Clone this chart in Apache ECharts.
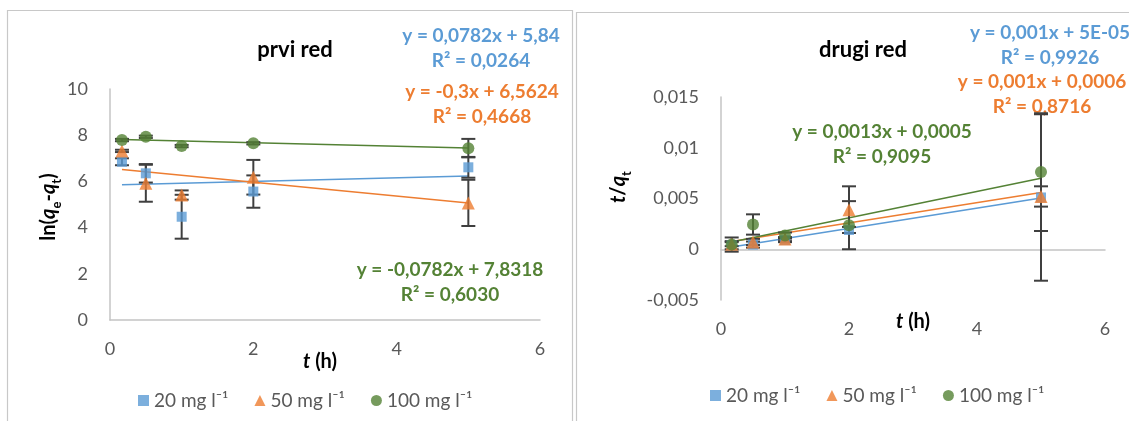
<!DOCTYPE html>
<html>
<head>
<meta charset="utf-8">
<script src="https://cdn.jsdelivr.net/npm/echarts@6/dist/echarts.min.js"></script>
<style>
  html, body { margin: 0; padding: 0; background: #fff; }
  #chart { width: 1129px; height: 421px; }
</style>
</head>
<body>
<div id="chart"></div>
<script>
// Sampling times (h)
const times = [0.167, 0.5, 1, 2, 5];
const seriesNames = ['20 mg l\u207B\u00B9', '50 mg l\u207B\u00B9', '100 mg l\u207B\u00B9'];

// First-order kinetics: ln(qe - qt)
const first20 = [6.85, 6.35, 4.47, 5.56, 6.61];
const first50 = [7.32, 5.92, 5.41, 6.18, 5.07];
const first100 = [7.79, 7.93, 7.53, 7.65, 7.44];
const firstErr20 = [0.15, 0.4, 0.95, 0.7, 0.45];
const firstErr50 = [0.05, 0.8, 0.2, 0.75, 1.0];
const firstErr100 = [0.05, 0.05, 0.05, 0.05, 0.4];
const firstSlope = [0.0782, -0.3, -0.0782];
const firstIntercept = [5.84, 6.5624, 7.8318];
const firstR2 = [0.0264, 0.4668, 0.6030];

// Second-order kinetics: t / qt
const second20 = [0.0004, 0.00046, 0.0009, 0.0019, 0.0051];
const second50 = [0.0005, 0.00072, 0.001, 0.0039, 0.0052];
const second100 = [0.00046, 0.00244, 0.00135, 0.00237, 0.0076];
const secondErr20 = [0.0004, 0.0003, 0.0002, 0.0003, 0.0082];
const secondErr50 = [0.0002, 0.0003, 0.0002, 0.0023, 0.001];
const secondErr100 = [0.0007, 0.001, 0.0003, 0.00237, 0.0058];
const secondSlope = [0.001, 0.001, 0.0013];
const secondIntercept = [0.00005, 0.0006, 0.0005];
const secondR2 = [0.9926, 0.8716, 0.9095];

// Axis ticks
const firstYTicks = { min: 0, max: 10, interval: 2 };
const secondYTicks = { min: -0.005, max: 0.015, interval: 0.005 };
const xTicks = { min: 0, max: 6, interval: 2 };

const colors = ['#5B9BD5', '#ED7D31', '#548235'];
const symbols = ['rect', 'triangle', 'circle'];
const symbolSizes = [10, 13, 12];
const FONT = 'Lato, "DejaVu Sans", sans-serif';

function dec(v) {
  if (v !== 0 && Math.abs(v) < 0.0001) {
    const [m, e] = v.toExponential(0).split('e');
    const ex = parseInt(e, 10);
    return m + 'E' + (ex < 0 ? '-' : '+') + String(Math.abs(ex)).padStart(2, '0');
  }
  return String(v).replace('.', ',');
}
function equation(a, b) {
  return 'y = ' + dec(a) + 'x ' + (b < 0 ? '- ' + dec(-b) : '+ ' + dec(b));
}
function r2Text(r) {
  return 'R\u00B2 = ' + r.toFixed(4).replace('.', ',');
}
function tickFmt(v) {
  return String(Number(v.toFixed(6))).replace('.', ',');
}

function pts(ys) { return times.map((x, i) => [x, ys[i]]); }
function errPts(ys, es) { return times.map((x, i) => [x, ys[i], es[i]]); }
function trend(a, b) {
  const x0 = times[0], x1 = times[times.length - 1];
  return [[x0, a * x0 + b], [x1, a * x1 + b]];
}

function errorBars(params, api) {
  const x = api.value(0), y = api.value(1), e = api.value(2);
  const top = api.coord([x, y + e]);
  const bot = api.coord([x, y - e]);
  const w = 7;
  const style = { stroke: '#3f3f3f', lineWidth: 2 };
  return {
    type: 'group',
    children: [
      { type: 'line', shape: { x1: top[0], y1: top[1], x2: bot[0], y2: bot[1] }, style },
      { type: 'line', shape: { x1: top[0] - w, y1: top[1], x2: top[0] + w, y2: top[1] }, style },
      { type: 'line', shape: { x1: bot[0] - w, y1: bot[1], x2: bot[0] + w, y2: bot[1] }, style }
    ]
  };
}

function buildSeries(idx, values, errors, slopes, intercepts) {
  const out = [];
  values.forEach((ys, k) => {
    out.push({
      name: 'err' + idx + '-' + k, type: 'custom',
      xAxisIndex: idx, yAxisIndex: idx, z: 3,
      renderItem: errorBars, data: errPts(ys, errors[k]), silent: true
    });
  });
  values.forEach((ys, k) => {
    out.push({
      name: 'fit' + idx + '-' + k, type: 'line',
      xAxisIndex: idx, yAxisIndex: idx, z: 2,
      data: trend(slopes[k], intercepts[k]), showSymbol: false, silent: true,
      lineStyle: { color: colors[k], width: 1.5 }
    });
  });
  values.forEach((ys, k) => {
    out.push({
      name: seriesNames[k], type: 'scatter',
      xAxisIndex: idx, yAxisIndex: idx, z: 4,
      data: pts(ys), symbol: symbols[k], symbolSize: symbolSizes[k],
      itemStyle: { color: colors[k] }
    });
  });
  return out;
}

const axisLine = { lineStyle: { color: '#c4c4c4', width: 1.5 } };
const axisLabel = { color: '#595959', fontSize: 18, fontFamily: FONT, formatter: tickFmt };

function xAxis(grid) {
  return {
    type: 'value', gridIndex: grid, ...xTicks,
    axisLine: { ...axisLine, onZero: true }, axisTick: { show: false },
    splitLine: { show: false }, axisLabel: { ...axisLabel, margin: 20 }
  };
}
function yAxis(grid, ticks) {
  return {
    type: 'value', gridIndex: grid, ...ticks,
    axisLine: { show: true, ...axisLine }, axisTick: { show: false },
    splitLine: { show: false }, axisLabel: { ...axisLabel, margin: 22 }
  };
}

const richBase = {
  b: { fontSize: 20, fontWeight: 'bold', fontFamily: FONT, fill: '#000', lineHeight: 28 },
  i: { fontSize: 20, fontWeight: 'bold', fontStyle: 'italic', fontFamily: FONT, fill: '#000', lineHeight: 28 },
  s: { fontSize: 13, fontWeight: 'bold', fontFamily: FONT, fill: '#000', lineHeight: 13, verticalAlign: 'bottom' }
};

function label(x, y, text, rotation) {
  return {
    type: 'text', x, y, rotation: rotation || 0, silent: true,
    style: { text, rich: richBase, align: 'center', verticalAlign: 'middle' }
  };
}

function eqBlock(x, y, a, b, r, color) {
  return {
    type: 'text', x, y, silent: true,
    style: {
      text: equation(a, b) + '\n' + r2Text(r),
      fill: color, font: 'bold 19px ' + FONT, lineHeight: 25,
      align: 'center', verticalAlign: 'middle'
    }
  };
}

function panel(x, y, w, h) {
  return {
    type: 'rect', silent: true, z: -10,
    shape: { x, y, width: w, height: h },
    style: { fill: '#fff', stroke: '#c8c8c8', lineWidth: 1.2 }
  };
}

const chart = echarts.init(document.getElementById('chart'), null, { renderer: 'canvas' });

const legendText = { color: '#595959', fontSize: 19, fontFamily: FONT };

chart.setOption({
  animation: false,
  backgroundColor: '#fff',
  textStyle: { fontFamily: FONT },
  grid: [
    { left: 110, top: 89, width: 430, height: 231 },
    { left: 721, top: 97, width: 384, height: 203 }
  ],
  xAxis: [xAxis(0), xAxis(1)],
  yAxis: [yAxis(0, firstYTicks), yAxis(1, secondYTicks)],
  title: [
    { text: 'prvi red', left: 290, top: 34, textAlign: 'center',
      textStyle: { fontSize: 22, fontWeight: 'bold', color: '#000', fontFamily: FONT } },
    { text: 'drugi red', left: 858, top: 34, textAlign: 'center',
      textStyle: { fontSize: 22, fontWeight: 'bold', color: '#000', fontFamily: FONT } }
  ],
  legend: [
    { data: seriesNames, left: 133, top: 386, itemWidth: 11, itemHeight: 11, itemGap: 26,
      textStyle: legendText, selectedMode: false },
    { data: seriesNames, left: 705, top: 381, itemWidth: 11, itemHeight: 11, itemGap: 26,
      textStyle: legendText, selectedMode: false }
  ],
  graphic: [
    panel(7.5, 10.5, 565, 440),
    panel(576.5, 12.5, 580, 440),
    label(49, 207, '{b|ln(}{i|q}{s|e}{b|-}{i|q}{s|t}{b|)}', Math.PI / 2),
    label(619, 187, '{i|t}{b|/}{i|q}{s|t}', Math.PI / 2),
    label(320, 362, '{i|t}{b| (h)}'),
    label(913, 322, '{i|t}{b| (h)}'),
    eqBlock(481, 48, firstSlope[0], firstIntercept[0], firstR2[0], colors[0]),
    eqBlock(482, 104, firstSlope[1], firstIntercept[1], firstR2[1], colors[1]),
    eqBlock(450, 282, firstSlope[2], firstIntercept[2], firstR2[2], colors[2]),
    eqBlock(1050, 45, secondSlope[0], secondIntercept[0], secondR2[0], colors[0]),
    eqBlock(1042, 94, secondSlope[1], secondIntercept[1], secondR2[1], colors[1]),
    eqBlock(882, 144, secondSlope[2], secondIntercept[2], secondR2[2], colors[2])
  ],
  series: [
    ...buildSeries(0, [first20, first50, first100], [firstErr20, firstErr50, firstErr100], firstSlope, firstIntercept),
    ...buildSeries(1, [second20, second50, second100], [secondErr20, secondErr50, secondErr100], secondSlope, secondIntercept)
  ]
});
</script>
</body>
</html>
